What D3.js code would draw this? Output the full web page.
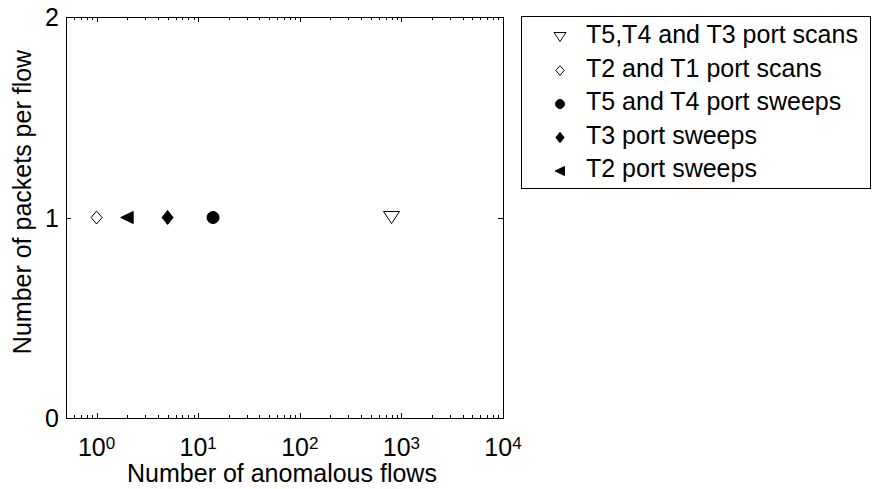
<!DOCTYPE html>
<html>
<head>
<meta charset="utf-8">
<script src="https://cdn.jsdelivr.net/npm/d3@7"></script>
<style>
  html, body { margin: 0; padding: 0; background: #fff; }
  svg { display: block; font-family: "Liberation Sans", Arial, Helvetica, sans-serif; }
</style>
</head>
<body>
<svg id="chart" width="872" height="489"></svg>
<script>
// Anomaly classes: flow count vs packets per flow
const seriesNames = [
  "T5,T4 and T3 port scans",
  "T2 and T1 port scans",
  "T5 and T4 port sweeps",
  "T3 port sweeps",
  "T2 port sweeps"
];
const flowCounts = [800, 1, 14, 5, 2];
const packetsPerFlow = [1, 1, 1, 1, 1];
const markerShapes = ["triangleDown", "diamondOpen", "circle", "diamondFilled", "triangleLeft"];
const xTickExponents = [0, 1, 2, 3, 4];
const yTickValues = [0, 1, 2];

const svg = d3.select("#chart");
const box = { left: 66, right: 503, top: 17, bottom: 418 };
const fontSize = 25;

const x = d3.scaleLog().domain([0.5, 10000]).range([box.left, box.right]);
const y = d3.scaleLinear().domain([0, 2]).range([box.bottom, box.top]);

// Marker path generator, centered at origin
function markerPath(shape) {
  switch (shape) {
    case "triangleDown": return "M-8,-6 L8,-6 L0,6 Z";
    case "diamondOpen": return "M0,-6.5 L5.5,0 L0,6.5 L-5.5,0 Z";
    case "diamondFilled": return "M0,-7 L5.5,0 L0,7 L-5.5,0 Z";
    case "triangleLeft": return "M-6.5,0 L6,-6 L6,6 Z";
    case "circle": return d3.symbol(d3.symbolCircle, Math.PI * 36)();
  }
}
function markerFill(shape) {
  return (shape === "triangleDown" || shape === "diamondOpen") ? "#fff" : "#000";
}

// Minor and major ticks, drawn inward on both sides of the box
const ticksG = svg.append("g").attr("stroke", "#000").attr("stroke-width", 1);
const minorX = [];
for (let e = -1; e < 4; e++) {
  for (let m = 2; m <= 9; m++) {
    const v = m * Math.pow(10, e);
    if (v >= 0.5 && v <= 10000) minorX.push(v);
  }
}
minorX.forEach(v => {
  const px = Math.round(x(v)) + 0.5;
  ticksG.append("line").attr("x1", px).attr("x2", px).attr("y1", box.bottom).attr("y2", box.bottom - 3);
  ticksG.append("line").attr("x1", px).attr("x2", px).attr("y1", box.top).attr("y2", box.top + 3);
});
xTickExponents.forEach(e => {
  const px = Math.round(x(Math.pow(10, e))) + 0.5;
  ticksG.append("line").attr("x1", px).attr("x2", px).attr("y1", box.bottom).attr("y2", box.bottom - 5);
  ticksG.append("line").attr("x1", px).attr("x2", px).attr("y1", box.top).attr("y2", box.top + 5);
});
yTickValues.forEach(v => {
  const py = Math.round(y(v)) + 0.5;
  ticksG.append("line").attr("x1", box.left).attr("x2", box.left + 5).attr("y1", py).attr("y2", py);
  ticksG.append("line").attr("x1", box.right).attr("x2", box.right - 5).attr("y1", py).attr("y2", py);
});

// Axes box
svg.append("rect")
  .attr("x", box.left + 0.5).attr("y", box.top + 0.5)
  .attr("width", box.right - box.left).attr("height", box.bottom - box.top)
  .attr("fill", "none").attr("stroke", "#000").attr("stroke-width", 1);

// X tick labels: 10 with superscript exponent
const xLab = svg.append("g").attr("font-size", fontSize).attr("fill", "#000");
xTickExponents.forEach(e => {
  const t = xLab.append("text")
    .attr("x", x(Math.pow(10, e)))
    .attr("y", 456)
    .attr("text-anchor", "middle");
  t.append("tspan").text("10");
  t.append("tspan").attr("dy", -7).attr("font-size", 17).text(e);
});

// Y tick labels
yTickValues.forEach(v => {
  svg.append("text")
    .attr("x", 59)
    .attr("y", y(v))
    .attr("dy", "0.36em")
    .attr("text-anchor", "end")
    .attr("font-size", fontSize)
    .text(v);
});

// Axis titles
svg.append("text")
  .attr("x", 282)
  .attr("y", 482)
  .attr("text-anchor", "middle")
  .attr("font-size", fontSize)
  .text("Number of anomalous flows");
svg.append("text")
  .attr("transform", "translate(31,202) rotate(-90)")
  .attr("text-anchor", "middle")
  .attr("font-size", fontSize)
  .text("Number of packets per flow");

// Data markers
svg.append("g").selectAll("path")
  .data(seriesNames.map((n, i) => ({ n, fx: flowCounts[i], py: packetsPerFlow[i], s: markerShapes[i] })))
  .join("path")
  .attr("transform", d => `translate(${x(d.fx)},${y(d.py)})`)
  .attr("d", d => markerPath(d.s))
  .attr("fill", d => markerFill(d.s))
  .attr("stroke", "#000")
  .attr("stroke-width", 1);

// Legend
const legend = svg.append("g");
legend.append("rect")
  .attr("x", 521.5).attr("y", 16.5)
  .attr("width", 349).attr("height", 172)
  .attr("fill", "#fff").attr("stroke", "#000").attr("stroke-width", 1);
const rowBase = i => 43 + i * 33.5;
seriesNames.forEach((name, i) => {
  const s = markerShapes[i];
  legend.append("path")
    .attr("transform", `translate(560,${rowBase(i) - 6}) scale(0.75)`)
    .attr("d", markerPath(s))
    .attr("fill", markerFill(s))
    .attr("stroke", "#000")
    .attr("stroke-width", 1.3);
  legend.append("text")
    .attr("x", 586)
    .attr("y", rowBase(i))
    .attr("font-size", fontSize)
    .text(name);
});
</script>
</body>
</html>
